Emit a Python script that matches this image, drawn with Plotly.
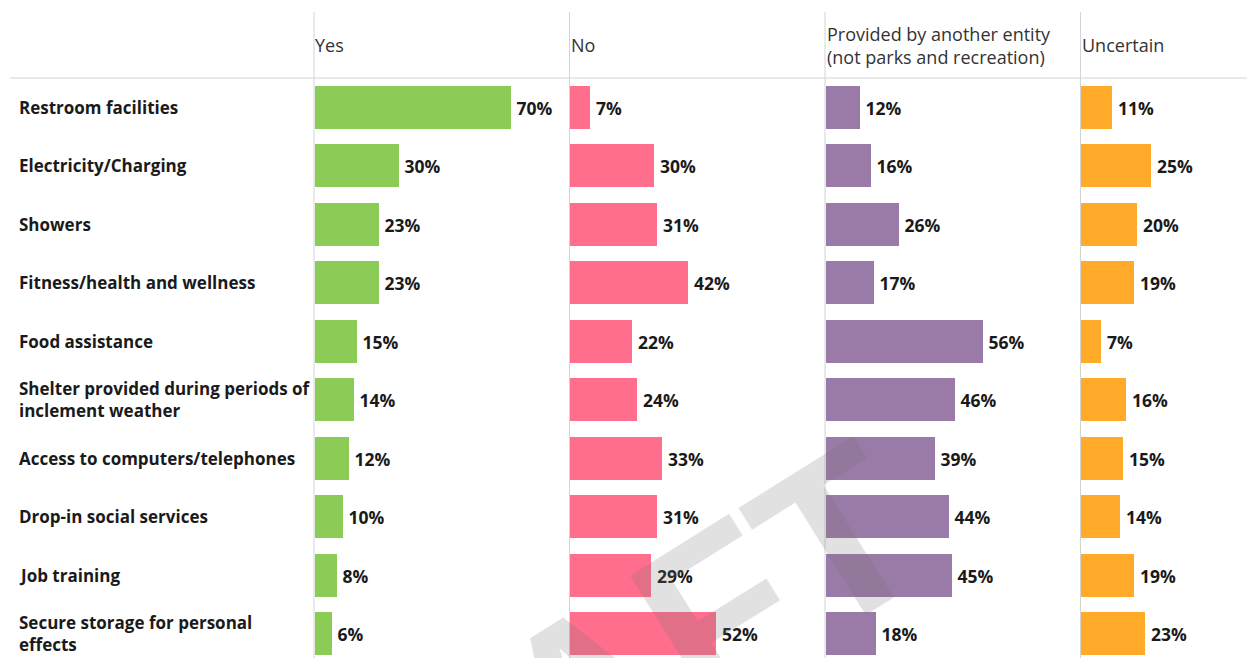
import plotly.graph_objects as go

# Survey responses: share of agencies offering each amenity (%)
categories = [
    "Restroom facilities",
    "Electricity/Charging",
    "Showers",
    "Fitness/health and wellness",
    "Food assistance",
    "Shelter provided during periods of<br>inclement weather",
    "Access to computers/telephones",
    "Drop-in social services",
    "Job training",
    "Secure storage for personal<br>effects",
]
yes_pct = [70, 30, 23, 23, 15, 14, 12, 10, 8, 6]
no_pct = [7, 30, 31, 42, 22, 24, 33, 31, 29, 52]
other_entity_pct = [12, 16, 26, 17, 56, 46, 39, 44, 45, 18]
uncertain_pct = [11, 25, 20, 19, 7, 16, 15, 14, 19, 23]

column_titles = [
    "Yes",
    "No",
    "Provided by another entity<br>(not parks and recreation)",
    "Uncertain",
]
column_colors = ["#8DCB57", "#FF6E8C", "#9A7AA7", "#FFAA28"]

W, H = 1247, 658
col_left_px = [314.5, 570, 825.5, 1081]
col_width_px = 255.5
px_per_unit = 2.80
header_line_px = 78
row_px = 58.5

plot_top = 1 - header_line_px / H
y_range = [-0.5 + (H - header_line_px) / row_px, -0.5]

series = [yes_pct, no_pct, other_entity_pct, uncertain_pct]
label_font = dict(family="Open Sans", size=17, color="#1a1a1a", weight="bold")
value_font = dict(family="Open Sans", size=17.5, color="#1a1a1a", weight="bold")

fig = go.Figure()
layout = {}
for i, (vals, color) in enumerate(zip(series, column_colors)):
    ax = "" if i == 0 else str(i + 1)
    left = col_left_px[i]
    right = min(left + col_width_px, W)
    fig.add_trace(go.Bar(
        x=vals,
        y=categories,
        orientation="h",
        marker=dict(color=color, line=dict(width=0)),
        width=0.74,
        texttemplate="\u2009%{x}%",
        textposition="outside",
        constraintext="none",
        cliponaxis=False,
        textfont=value_font,
        hoverinfo="skip",
        xaxis="x" + ax,
        yaxis="y" + ax,
        showlegend=False,
    ))
    layout["xaxis" + ax] = dict(
        domain=[left / W, right / W],
        range=[0, (right - left) / px_per_unit],
        anchor="y" + ax,
        showgrid=False, zeroline=False, showticklabels=False,
        showline=False, ticks="", fixedrange=True,
    )
    layout["yaxis" + ax] = dict(
        domain=[0, plot_top],
        range=y_range,
        anchor="x" + ax,
        type="category",
        categoryorder="array",
        categoryarray=categories,
        showgrid=False, zeroline=False, showticklabels=False,
        showline=False, ticks="", fixedrange=True,
    )

fig.update_layout(**layout)

shapes = []
# column dividers
for left in col_left_px:
    shapes.append(dict(
        type="line", xref="paper", yref="paper",
        x0=(left - 0.5) / W, x1=(left - 0.5) / W,
        y0=0, y1=1 - 12 / H,
        line=dict(color="#d4d4d4", width=1),
    ))
# rule under the column headers
shapes.append(dict(
    type="line", xref="paper", yref="paper",
    x0=10 / W, x1=1,
    y0=plot_top, y1=plot_top,
    line=dict(color="#d4d4d4", width=1),
))

annotations = []
for left, title in zip(col_left_px, column_titles):
    annotations.append(dict(
        text=title, xref="paper", yref="paper",
        x=(left - 1) / W, y=1 - 45 / H,
        xanchor="left", yanchor="middle", align="left",
        showarrow=False,
        font=dict(family="Open Sans", size=18, color="#333333"),
    ))
for cat in categories:
    annotations.append(dict(
        text=cat, xref="paper", yref="y",
        x=17 / W, y=cat,
        xanchor="left", yanchor="middle", align="left",
        showarrow=False,
        font=label_font,
    ))
# draft watermark across the lower middle of the chart
annotations.append(dict(
    text="DRAFT", xref="paper", yref="paper",
    x=566 / W, y=1 - 708 / H,
    xanchor="center", yanchor="middle",
    textangle=-32, showarrow=False,
    font=dict(family="Liberation Sans", size=230, color="rgba(120,120,120,0.22)", weight="bold"),
))

fig.update_layout(
    width=W, height=H,
    margin=dict(l=0, r=0, t=0, b=0),
    paper_bgcolor="white",
    plot_bgcolor="rgba(0,0,0,0)",
    bargap=0,
    shapes=shapes,
    annotations=annotations,
)

fig.write_html("out.html")
